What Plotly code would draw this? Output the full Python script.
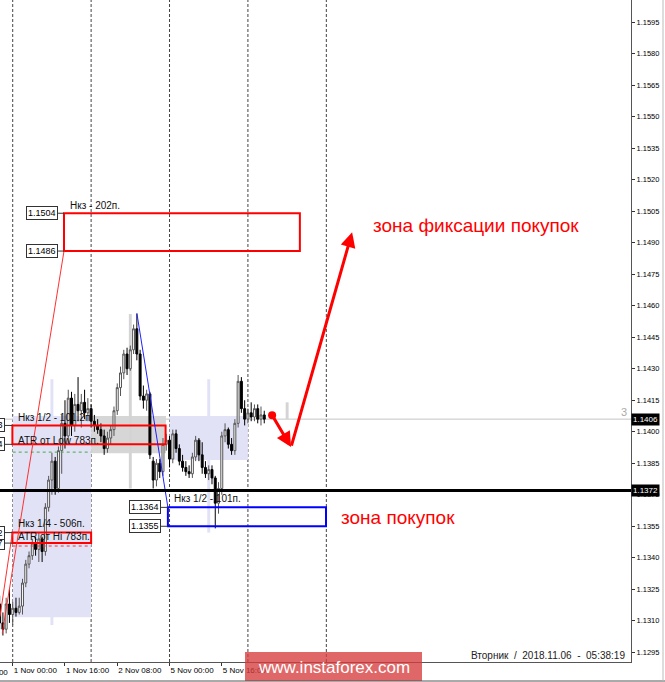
import plotly.graph_objects as go

# ---------------- data ----------------
# hourly bars, index 0 = 1 Nov 00:00 (weekend removed: 48 = 5 Nov 00:00, 72 = 6 Nov 00:00)
bar_index = list(range(-4, 78))
opens = [1.1318, 1.1309, 1.1306, 1.1318, 1.1313, 1.1316, 1.1314, 1.1317, 1.1328, 1.1337,
         1.1341, 1.1347, 1.1344, 1.1349, 1.1343, 1.1364, 1.1377, 1.1386, 1.1373, 1.1391,
         1.1404, 1.1398, 1.1416, 1.1403, 1.1413, 1.1410, 1.1414, 1.1409, 1.1411, 1.1405,
         1.1403, 1.1401, 1.1398, 1.1392, 1.1397, 1.1401, 1.1410, 1.1421, 1.1428, 1.1437,
         1.1430, 1.1439, 1.1449, 1.1437, 1.1417, 1.1415, 1.1418, 1.1386, 1.1377, 1.1385,
         1.1381, 1.1394, 1.1396, 1.1387, 1.1399, 1.1392, 1.1386, 1.1383, 1.1381, 1.1380,
         1.1388, 1.1396, 1.1389, 1.1383, 1.1380, 1.1382, 1.1378, 1.1366, 1.1373, 1.1398,
         1.1401, 1.1394, 1.1391, 1.1404, 1.1424, 1.1411, 1.1406, 1.1409, 1.1407, 1.1411,
         1.1406, 1.1408]
highs = [1.1322, 1.1314, 1.1321, 1.1325, 1.1319, 1.1321, 1.1321, 1.1330, 1.1339, 1.1343,
         1.1349, 1.1350, 1.1352, 1.1350, 1.1366, 1.1379, 1.1390, 1.1388, 1.1393, 1.1408,
         1.1415, 1.1420, 1.1419, 1.1418, 1.1426, 1.1418, 1.1420, 1.1416, 1.1413, 1.1408,
         1.1406, 1.1404, 1.1401, 1.1400, 1.1403, 1.1412, 1.1423, 1.1431, 1.1439, 1.1440,
         1.1441, 1.1451, 1.1456, 1.1439, 1.1422, 1.1420, 1.1419, 1.1388, 1.1387, 1.1387,
         1.1397, 1.1399, 1.1398, 1.1401, 1.1401, 1.1394, 1.1389, 1.1386, 1.1384, 1.1390,
         1.1398, 1.1397, 1.1395, 1.1386, 1.1384, 1.1384, 1.1379, 1.1376, 1.1400, 1.1404,
         1.1402, 1.1397, 1.1406, 1.1427, 1.1426, 1.1415, 1.1411, 1.1414, 1.1413, 1.1413,
         1.1412, 1.1410]
lows = [1.1306, 1.1303, 1.1304, 1.1309, 1.1308, 1.1312, 1.1313, 1.1313, 1.1326, 1.1335,
        1.1339, 1.1341, 1.1338, 1.1338, 1.1341, 1.1362, 1.1370, 1.1370, 1.1371, 1.1380,
        1.1392, 1.1394, 1.1398, 1.1400, 1.1405, 1.1402, 1.1406, 1.1405, 1.1402, 1.1400,
        1.1399, 1.1395, 1.1389, 1.1390, 1.1394, 1.1398, 1.1408, 1.1417, 1.1425, 1.1427,
        1.1429, 1.1437, 1.1434, 1.1415, 1.1411, 1.1410, 1.1387, 1.1373, 1.1374, 1.1378,
        1.1379, 1.1391, 1.1383, 1.1385, 1.1390, 1.1384, 1.1381, 1.1379, 1.1378, 1.1378,
        1.1386, 1.1386, 1.1380, 1.1378, 1.1377, 1.1375, 1.1354, 1.1361, 1.1370, 1.1395,
        1.1392, 1.1389, 1.1389, 1.1402, 1.1409, 1.1403, 1.1404, 1.1405, 1.1405, 1.1404,
        1.1403, 1.1404]
closes = [1.1309, 1.1306, 1.1318, 1.1313, 1.1316, 1.1314, 1.1317, 1.1328, 1.1337, 1.1341,
          1.1347, 1.1344, 1.1349, 1.1343, 1.1364, 1.1377, 1.1386, 1.1373, 1.1391, 1.1404,
          1.1398, 1.1416, 1.1403, 1.1413, 1.1410, 1.1414, 1.1409, 1.1411, 1.1405, 1.1403,
          1.1401, 1.1398, 1.1392, 1.1397, 1.1401, 1.1410, 1.1421, 1.1428, 1.1437, 1.1430,
          1.1439, 1.1449, 1.1437, 1.1417, 1.1415, 1.1418, 1.1389, 1.1377, 1.1385, 1.1381,
          1.1394, 1.1396, 1.1387, 1.1399, 1.1392, 1.1386, 1.1383, 1.1381, 1.1380, 1.1388,
          1.1396, 1.1389, 1.1383, 1.1380, 1.1382, 1.1378, 1.1366, 1.1373, 1.1398, 1.1401,
          1.1394, 1.1391, 1.1404, 1.1424, 1.1411, 1.1406, 1.1409, 1.1407, 1.1411, 1.1406,
          1.1408, 1.1406]

price_ticks = [1.1295, 1.1310, 1.1325, 1.1340, 1.1355, 1.1370, 1.1385, 1.1400, 1.1415,
               1.1430, 1.1445, 1.1460, 1.1475, 1.1490, 1.1505, 1.1520, 1.1535, 1.1550,
               1.1565, 1.1580, 1.1595]
price_tick_labels = ["1.1295", "1.1310", "1.1325", "1.1340", "1.1355", "1.1370", "1.1385",
                     "1.1400", "1.1415", "1.1430", "1.1445", "1.1460", "1.1475", "1.1490",
                     "1.1505", "1.1520", "1.1535", "1.1550", "1.1565", "1.1580", "1.1595"]
time_ticks = [0, 16, 32, 48, 64]
time_tick_labels = ["1 Nov 00:00", "1 Nov 16:00", "2 Nov 08:00", "5 Nov 00:00", "5 Nov 16:00"]
prev_time_label = "31 Oct 08:00"
day_separators = [0, 24, 48, 72, 96]

# levels / zones (prices)
target_zone = [1.1486, 1.1504]
target_zone_labels = ["1.1486", "1.1504"]
buy_zone = [1.1355, 1.1364]
buy_zone_labels = ["1.1355", "1.1364"]
atr_low_zone = [1.1394, 1.1403]
atr_low_labels = ["1.1394", "1.1403"]
atr_hi_zone = [1.1347, 1.1352]
atr_hi_labels = ["1.1347", "1.1352"]
support_level = 1.1372
bid_price = 1.1406
gray_box = [1.13898, 1.14075]
lavender_box_1 = [1.13117, 1.14075]
lavender_box_2 = [1.13865, 1.14075]
green_level = 1.13903
red_level = 1.13456

daily_range_x = [12, 36, 60, 84]
daily_range_hi = [1.1425, 1.1456, 1.1425, 1.1414]
daily_range_lo = [1.1308, 1.1373, 1.1352, 1.1406]
daily_range_col = ["#e2e2f6", "#d4d4d4", "#e2e2f6", "#d4d4d4"]

trend_red_from = [-3.2, 1.1304]
trend_red_to = [15.7, 1.1486]
trend_red2_from = [-3.9, 1.1312]
trend_red2_to = [-0.1, 1.1352]
trend_blue_from = [38, 1.14565]
trend_blue_to = [47.5, 1.1364]

arrow_start = [79.4, 1.14079]
arrow_mid = [85.2, 1.13927]
arrow_end = [103.9, 1.1495]

FONT = "Liberation Sans"
LAV = "#e2e2f6"
PLOT_W, PLOT_H = 631, 662

fig = go.Figure()

shapes = []
# background zones
shapes.append(dict(type="rect", xref="x", yref="y", x0=0, x1=24, y0=lavender_box_1[0], y1=lavender_box_1[1],
                   fillcolor=LAV, line=dict(width=0), layer="below"))
shapes.append(dict(type="rect", xref="x", yref="y", x0=48, x1=72, y0=lavender_box_2[0], y1=lavender_box_2[1],
                   fillcolor=LAV, line=dict(width=0), layer="below"))
shapes.append(dict(type="rect", xref="x", yref="y", x0=24, x1=46.9, y0=gray_box[0], y1=gray_box[1],
                   fillcolor="#d6d6d6", line=dict(width=0), layer="below"))
for xi, hi, lo, col in zip(daily_range_x, daily_range_hi, daily_range_lo, daily_range_col):
    shapes.append(dict(type="rect", xref="x", yref="y", x0=xi - 0.45, x1=xi + 0.45, y0=lo, y1=hi,
                       fillcolor=col, line=dict(width=0), layer="below"))
for d in day_separators:
    shapes.append(dict(type="line", xref="x", yref="paper", x0=d, x1=d, y0=0, y1=1,
                       line=dict(color="#444", width=1, dash="3px,2px"), layer="below"))
# bid line
shapes.append(dict(type="line", xref="paper", yref="y", x0=0, x1=1, y0=bid_price, y1=bid_price,
                   line=dict(color="#c4c4c4", width=1), layer="below"))

# dotted level lines
shapes.append(dict(type="line", xref="x", yref="y", x0=0, x1=24, y0=green_level, y1=green_level,
                   line=dict(color="#44aa44", width=1, dash="dot")))
shapes.append(dict(type="line", xref="x", yref="y", x0=0, x1=24, y0=red_level, y1=red_level,
                   line=dict(color="#ff3030", width=1, dash="dot")))

# zones
shapes.append(dict(type="rect", xref="x", yref="y", x0=15.7, x1=87.9, y0=target_zone[0], y1=target_zone[1],
                   line=dict(color="#ff0000", width=2)))
shapes.append(dict(type="rect", xref="x", yref="y", x0=-0.1, x1=46.8, y0=atr_low_zone[0], y1=atr_low_zone[1],
                   line=dict(color="#ff0000", width=2)))
shapes.append(dict(type="rect", xref="x", yref="y", x0=-0.1, x1=24, y0=atr_hi_zone[0], y1=atr_hi_zone[1],
                   line=dict(color="#ff0000", width=2)))
shapes.append(dict(type="rect", xref="x", yref="y", x0=47.5, x1=95.9, y0=buy_zone[0], y1=buy_zone[1],
                   line=dict(color="#0000ff", width=2)))

# trend lines
shapes.append(dict(type="line", xref="x", yref="y", x0=trend_red_from[0], y0=trend_red_from[1],
                   x1=trend_red_to[0], y1=trend_red_to[1], line=dict(color="#ff3030", width=1)))
shapes.append(dict(type="line", xref="x", yref="y", x0=trend_red2_from[0], y0=trend_red2_from[1],
                   x1=trend_red2_to[0], y1=trend_red2_to[1], line=dict(color="#ff3030", width=1)))
shapes.append(dict(type="line", xref="x", yref="y", x0=trend_blue_from[0], y0=trend_blue_from[1],
                   x1=trend_blue_to[0], y1=trend_blue_to[1], line=dict(color="#2020ff", width=1)))

# support level (thick black)
shapes.append(dict(type="line", xref="paper", yref="y", x0=0, x1=1, y0=support_level, y1=support_level,
                   line=dict(color="black", width=3)))

# price-label connectors
label_sets = [(target_zone, target_zone_labels, 13.9, 15.7),
              (buy_zone, buy_zone_labels, 45.4, 47.5),
              (atr_low_zone, atr_low_labels, -2.4, -0.1),
              (atr_hi_zone, atr_hi_labels, -2.4, -0.1)]
annotations = []
for prices, labels, xl, xr in label_sets:
    for p, t in zip(prices, labels):
        shapes.append(dict(type="line", xref="x", yref="y", x0=xl, x1=xr, y0=p, y1=p,
                           line=dict(color="#333", width=1)))
        annotations.append(dict(xref="x", yref="y", x=xl, y=p, text=t, showarrow=False,
                                xanchor="right", yanchor="middle",
                                font=dict(family=FONT, size=9, color="black"),
                                bgcolor="white", bordercolor="#333", borderwidth=1, borderpad=1))

# watermark box
shapes.append(dict(type="rect", xref="paper", yref="paper", x0=245 / PLOT_W, x1=422 / PLOT_W,
                   y0=1 - 681 / PLOT_H, y1=1 - 652 / PLOT_H, fillcolor="rgba(214,60,60,0.78)",
                   line=dict(width=0), layer="above"))
# window frame lines (bottom, right)
shapes.append(dict(type="line", xref="paper", yref="paper", x0=0, x1=665 / PLOT_W,
                   y0=1 - 681 / PLOT_H, y1=1 - 681 / PLOT_H, line=dict(color="#555", width=1)))
shapes.append(dict(type="line", xref="paper", yref="paper", x0=663 / PLOT_W, x1=663 / PLOT_W,
                   y0=1 - 681 / PLOT_H, y1=1, line=dict(color="#bbbbbb", width=1)))

# candles
fig.add_trace(go.Candlestick(
    x=bar_index, open=opens, high=highs, low=lows, close=closes,
    increasing=dict(line=dict(color="#555555", width=1), fillcolor="white"),
    decreasing=dict(line=dict(color="#000000", width=1), fillcolor="#000000"),
    whiskerwidth=0, hoverinfo="skip", showlegend=False))

# red dot for arrow start
fig.add_trace(go.Scatter(x=[arrow_start[0]], y=[arrow_start[1]], mode="markers",
                         marker=dict(color="#ff0000", size=8), hoverinfo="skip", showlegend=False))

# text labels on chart
txt = dict(family=FONT, size=10, color="#111")
annotations += [
    dict(xref="x", yref="y", x=16.9, y=1.15079, text="Нкз - 202п.", showarrow=False,
         xanchor="left", yanchor="middle", font=txt),
    dict(xref="x", yref="y", x=1.0, y=1.14069, text="Нкз 1/2 - 101.2п", showarrow=False,
         xanchor="left", yanchor="middle", font=txt),
    dict(xref="x", yref="y", x=1.0, y=1.13956, text="ATR от Low 783п.", showarrow=False,
         xanchor="left", yanchor="middle", font=txt),
    dict(xref="x", yref="y", x=1.0, y=1.13565, text="Нкз 1/4 - 506п.", showarrow=False,
         xanchor="left", yanchor="middle", font=txt),
    dict(xref="x", yref="y", x=1.0, y=1.13503, text="ATR от Hi 783п.", showarrow=False,
         xanchor="left", yanchor="middle", font=txt),
    dict(xref="x", yref="y", x=48.8, y=1.13684, text="Нкз 1/2 - 101п.", showarrow=False,
         xanchor="left", yanchor="middle", font=txt),
    dict(xref="x", yref="y", x=141.8, y=1.14984, text="зона фиксации покупок", showarrow=False,
         xanchor="center", yanchor="middle", font=dict(family=FONT, size=19, color="#ff0000")),
    dict(xref="x", yref="y", x=117.8, y=1.13593, text="зона покупок", showarrow=False,
         xanchor="center", yanchor="middle", font=dict(family=FONT, size=19, color="#ff0000")),
    dict(xref="x", yref="y", x=188.5, y=1.14094, text="3", showarrow=False,
         xanchor="right", yanchor="middle", font=dict(family=FONT, size=11, color="#aaaaaa")),
    # arrows
    dict(xref="x", yref="y", axref="x", ayref="y", x=arrow_mid[0], y=arrow_mid[1],
         ax=arrow_start[0], ay=arrow_start[1], showarrow=True, arrowhead=2, arrowsize=1,
         arrowwidth=3, arrowcolor="#ff0000", text=""),
    dict(xref="x", yref="y", axref="x", ayref="y", x=arrow_end[0], y=arrow_end[1],
         ax=arrow_mid[0], ay=arrow_mid[1], showarrow=True, arrowhead=2, arrowsize=1,
         arrowwidth=3, arrowcolor="#ff0000", text=""),
    # axis price markers
    dict(xref="paper", yref="y", x=1.0, y=bid_price, text="1.1406", showarrow=False,
         xanchor="left", yanchor="middle", font=dict(family=FONT, size=8, color="white"),
         bgcolor="black", borderpad=1),
    dict(xref="paper", yref="y", x=1.0, y=support_level, text="1.1372", showarrow=False,
         xanchor="left", yanchor="middle", font=dict(family=FONT, size=8, color="white"),
         bgcolor="black", borderpad=1),
    # partial time label at the far left (previous 16h tick)
    dict(xref="paper", yref="paper", x=(12.7 - 52.3) / PLOT_W, y=-0.006, text=prev_time_label,
         showarrow=False, xanchor="left", yanchor="top",
         font=dict(family=FONT, size=8, color="black")),
    # watermark text and date
    dict(xref="paper", yref="paper", x=333.5 / PLOT_W, y=1 - 667 / PLOT_H, text="www.instaforex.com",
         showarrow=False, xanchor="center", yanchor="middle",
         font=dict(family=FONT, size=17, color="white")),
    dict(xref="paper", yref="paper", x=627 / PLOT_W, y=1 - 655 / PLOT_H,
         text="Вторник  /  2018.11.06  -  05:38:19", showarrow=False, xanchor="right",
         yanchor="middle", font=dict(family=FONT, size=10, color="#222")),
]

fig.update_layout(
    width=665, height=682,
    margin=dict(l=0, r=34, t=0, b=20, autoexpand=False),
    paper_bgcolor="white", plot_bgcolor="white",
    showlegend=False, boxgap=0.15,
    shapes=shapes, annotations=annotations,
    xaxis=dict(range=[-3.89, 189.26], showgrid=False, zeroline=False, showline=True,
               linecolor="#555", linewidth=1, ticks="outside", ticklen=3, tickcolor="#333",
               tickvals=time_ticks, ticktext=time_tick_labels, ticklabelposition="outside right",
               tickangle=0, automargin=False,
               tickfont=dict(family=FONT, size=8, color="black"),
               rangeslider=dict(visible=False), fixedrange=True),
    yaxis=dict(side="right", range=[1.12904, 1.16055], showgrid=False, zeroline=False,
               showline=True, linecolor="#555", linewidth=1, ticks="outside", ticklen=3,
               tickcolor="#333", tickvals=price_ticks, ticktext=price_tick_labels,
               automargin=False,
               tickfont=dict(family=FONT, size=7.5, color="black"), fixedrange=True),
)

fig.write_html("out.html", config={"displayModeBar": False},
               post_script="document.body.style.margin='0';document.body.style.overflow='hidden';")
